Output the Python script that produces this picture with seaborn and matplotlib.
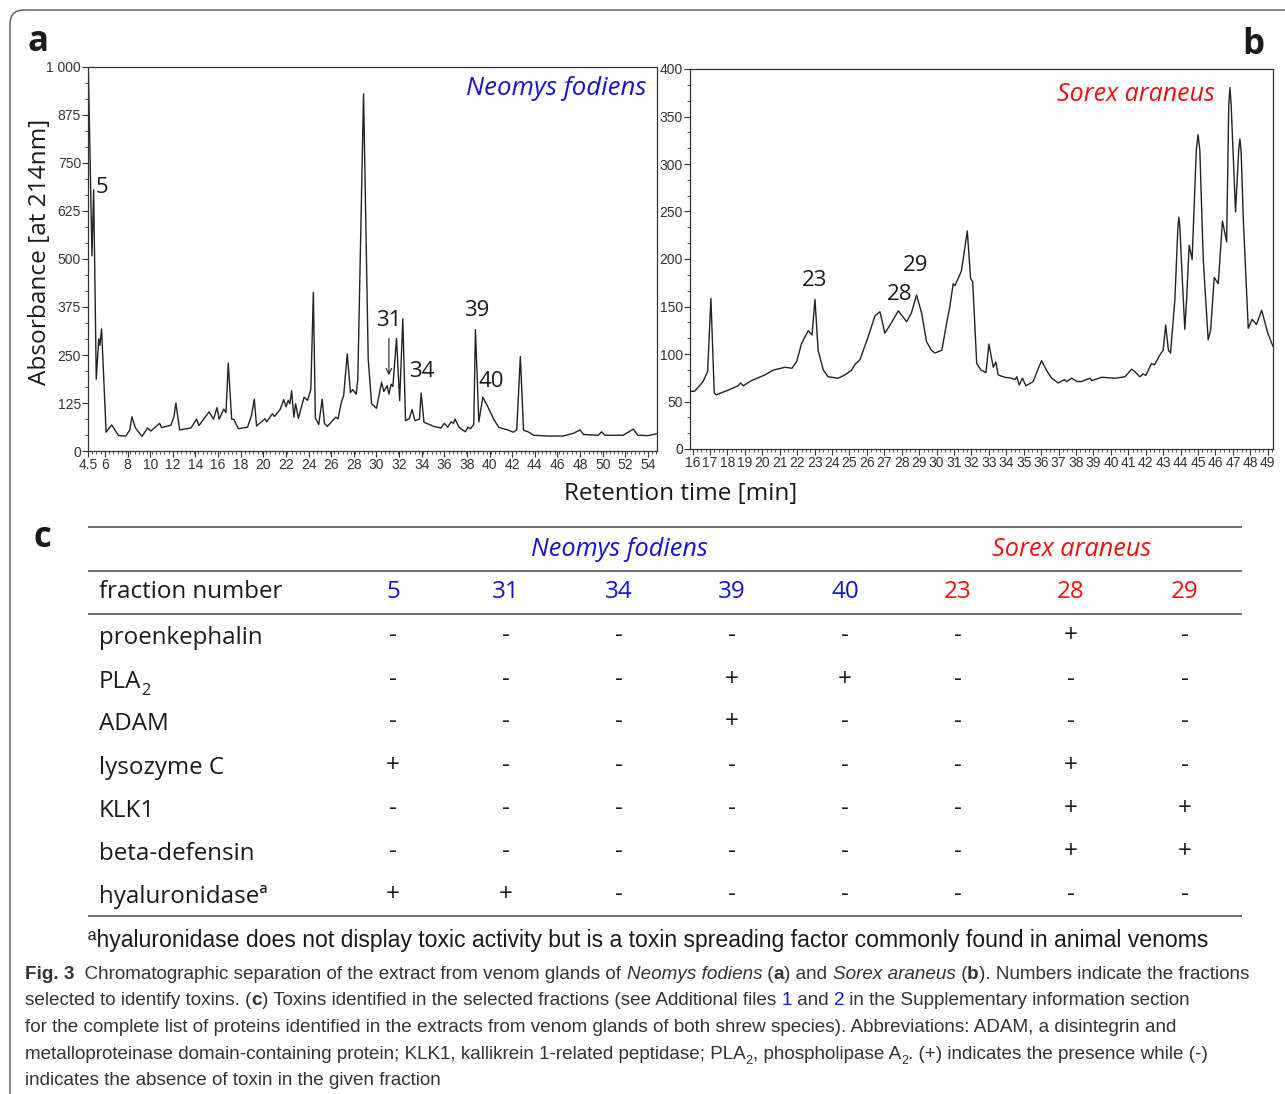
import matplotlib
matplotlib.use("Agg")
import matplotlib.pyplot as plt
import pandas as pd
import seaborn as sns
from matplotlib import font_manager
from matplotlib.font_manager import FontProperties
from matplotlib.patches import FancyBboxPatch
from matplotlib.ticker import AutoMinorLocator

W, H = 1285, 1094

# ---- chromatogram a: Neomys fodiens (time [min], absorbance) ----
NEO_TIME = [4.52, 4.60, 4.85, 5.00, 5.23, 5.45, 5.55, 5.70, 6.10, 6.60, 7.20, 7.85,
            8.20, 8.38, 8.70, 9.27, 9.77, 10.05, 10.83, 11.0, 11.83, 12.10, 12.27,
            12.60, 13.6, 14.1, 14.3, 15.2, 15.6, 15.9, 16.1, 16.5, 16.7, 16.9, 17.2,
            17.4, 17.8, 18.6, 18.95, 19.2, 19.4, 20.15, 20.3, 20.8, 21.0, 21.5, 21.8,
            22.0, 22.2, 22.35, 22.5, 22.7, 22.85, 23.1, 23.6, 23.9, 24.2, 24.42, 24.6,
            24.9, 25.2, 25.4, 25.65, 26.4, 26.6, 26.9, 27.1, 27.42, 27.7, 27.9, 28.2,
            28.35, 28.86, 29.27, 29.57, 29.8, 30.0, 30.45, 30.65, 30.95, 31.1, 31.3,
            31.45, 31.77, 32.05, 32.33, 32.57, 32.9, 33.15, 33.4, 33.8, 33.95, 34.2,
            35.07, 35.7, 36.0, 36.3, 36.6, 36.8, 36.95, 37.3, 37.85, 38.1, 38.3, 38.6,
            38.75, 39.05, 39.4, 39.8, 40.36, 40.8, 41.2, 41.6, 42.1, 42.4, 42.72, 43.0,
            43.4, 43.9, 45.1, 46.5, 47.4, 48.0, 48.3, 49.6, 49.9, 50.2, 51.8, 52.7,
            53.1, 54.0, 54.8]
NEO_ABS = [1010, 890, 508, 680, 187, 292, 275, 318, 49, 68, 40, 39,
           55, 89, 60, 38, 60, 52, 72, 61, 67, 90, 125,
           55, 60, 83, 66, 102, 83, 113, 83, 109, 100, 229, 83,
           82, 58, 62, 92, 135, 65, 84, 76, 97, 90, 109, 134,
           115, 132, 123, 157, 88, 123, 85, 140, 132, 160, 413, 86,
           69, 135, 72, 64, 88, 84, 127, 144, 253, 152, 160, 148,
           186, 930, 240, 123, 117, 111, 179, 155, 170, 148, 174,
           168, 293, 131, 344, 79, 84, 108, 79, 83, 151, 75,
           64, 60, 72, 62, 76, 72, 83, 62, 50, 62, 58, 69,
           316, 76, 140, 118, 83, 62, 58, 55, 49, 55, 246, 54,
           50, 41, 39, 39, 46, 55, 43, 41, 50, 41, 41, 57,
           41, 40, 45]

# ---- chromatogram b: Sorex araneus ----
SOR_TIME = [15.85, 16.13, 16.6, 16.86, 17.05, 17.24, 17.36, 18.05, 18.6, 18.75, 18.9,
            19.38, 20.15, 20.62, 21.3, 21.7, 21.97, 22.25, 22.63, 22.85, 23.02, 23.2,
            23.5, 23.78, 24.35, 24.74, 25.12, 25.31, 25.6, 26.07, 26.46, 26.75, 27.03,
            27.38, 27.8, 28.28, 28.55, 28.85, 29.14, 29.42, 29.7, 29.9, 30.3, 30.57,
            30.76, 30.95, 31.05, 31.24, 31.43, 31.76, 31.95, 32.07, 32.3, 32.55, 32.83,
            33.0, 33.25, 33.4, 33.53, 33.9, 34.3, 34.5, 34.6, 34.74, 34.93, 35.12,
            35.54, 35.73, 36.02, 36.3, 36.6, 36.98, 37.33, 37.45, 37.75, 38.05, 38.3,
            38.8, 38.9, 39.47, 40.23, 40.8, 41.19, 41.4, 41.66, 41.85, 42.0, 42.33,
            42.5, 42.81, 43.0, 43.14, 43.3, 43.42, 43.67, 43.84, 43.9, 43.96, 44.09,
            44.24, 44.35, 44.49, 44.66, 44.9, 45.0, 45.1, 45.3, 45.58, 45.72, 45.93,
            46.16, 46.4, 46.64, 46.76, 46.83, 46.9, 47.15, 47.33, 47.4, 47.47, 47.6,
            47.88, 48.1, 48.35, 48.65, 49.0, 49.3]
SOR_ABS = [60.5, 61, 71, 81.5, 158.5, 59, 57, 62, 66.5, 69.5, 66.5,
           72, 78, 83, 86, 85, 92, 111, 124.5, 120, 157.5, 104,
           83, 76, 74.5, 78, 83, 89, 94, 118, 140, 144.5, 122,
           132, 145.5, 134, 143, 162, 143, 113, 104, 101, 104, 132,
           150, 174, 172, 179.5, 188, 229.5, 179.5, 176, 90, 83, 80.5,
           110.5, 86, 91.5, 78, 75.5, 74.5, 73, 76, 67.5, 74.5, 66.5,
           71, 80, 93, 83, 74.5, 69.5, 73, 71, 74.5, 71, 71,
           74.5, 72, 75.5, 74.5, 76, 84, 81, 76, 79, 77.5, 90,
           88.5, 99, 104, 130.5, 104, 101, 157, 232, 244, 232, 181,
           126, 160, 214.5, 199.5, 315, 331, 315, 199, 115, 125, 180.5,
           174, 240, 218, 362, 380.5, 362, 249.5, 314, 326.5, 314, 240,
           127, 136.5, 131, 146, 122, 108]

NEO_XTICKS = [4.5] + list(range(6, 55, 2))
NEO_YTICKS = [0, 125, 250, 375, 500, 625, 750, 875, 1000]
NEO_YLABELS = ["0", "125", "250", "375", "500", "625", "750", "875", "1 000"]
SOR_XTICKS = list(range(16, 50))
SOR_YTICKS = list(range(0, 401, 50))

# peak labels: (text, time, absorbance) - label centres
NEO_PEAKS = [("5", 5.7, 685), ("31", 31.07, 339), ("34", 33.98, 206),
             ("39", 38.83, 365), ("40", 40.16, 182)]
SOR_PEAKS = [("23", 23.0, 177), ("28", 27.9, 163), ("29", 28.8, 193)]

# ---- table c ----
NEOMYS_FRACTIONS = ["5", "31", "34", "39", "40"]
SOREX_FRACTIONS = ["23", "28", "29"]
TOXINS = ["proenkephalin", "PLA", "ADAM", "lysozyme C", "KLK1", "beta-defensin",
          "hyaluronidaseª"]
PRESENCE = ["------+-",
            "---++---",
            "---+----",
            "+-----+-",
            "------++",
            "------++",
            "++------"]

BLUE = "#1414cc"
RED = "#f01010"
INK = "#1a1a1a"
CAP_INK = "#333333"

sns.set_style("ticks")
installed = {f.name for f in font_manager.fontManager.ttflist}
NARROW = "Liberation Sans Narrow" if "Liberation Sans Narrow" in installed else "Liberation Sans"
SANS = "Open Sans"
plt.rcParams["font.family"] = [SANS, "DejaVu Sans"]

fig = plt.figure(figsize=(W / 100, H / 100), dpi=100)
ov = fig.add_axes([0, 0, 1, 1])
ov.set_xlim(0, W)
ov.set_ylim(H, 0)
ov.axis("off")
renderer = fig.canvas.get_renderer()


def fax(x0, y0, x1, y1):
    return fig.add_axes([x0 / W, 1 - y1 / H, (x1 - x0) / W, (y1 - y0) / H])


def style_axes(ax):
    for sp in ax.spines.values():
        sp.set_color("#333333")
        sp.set_linewidth(0.9)
    ax.tick_params(which="major", direction="out", length=4, width=0.8,
                   color="#333333", pad=1)
    ax.tick_params(which="minor", direction="out", length=2, width=0.6,
                   color="#333333")
    ax.set_xlabel("")
    ax.set_ylabel("")


# panel a
ax_a = fax(88, 67, 657, 451)
df_a = pd.DataFrame({"time": NEO_TIME, "abs": NEO_ABS})
sns.lineplot(data=df_a, x="time", y="abs", ax=ax_a, color="#222222",
             linewidth=1.0, estimator=None, sort=False)
ax_a.set_xlim(4.5, 54.8)
ax_a.set_ylim(0, 1000)
ax_a.set_xticks(NEO_XTICKS)
ax_a.set_xticklabels([f"{v:g}" for v in NEO_XTICKS], fontfamily=NARROW,
                     fontsize=10, color="#333333")
ax_a.set_yticks(NEO_YTICKS)
ax_a.set_yticklabels(NEO_YLABELS, fontfamily=NARROW, fontsize=10, color="#333333")
ax_a.xaxis.set_minor_locator(AutoMinorLocator(4))
ax_a.yaxis.set_minor_locator(AutoMinorLocator(3))
style_axes(ax_a)
for txt, t, a in NEO_PEAKS:
    ax_a.text(t, a, txt, fontsize=16, ha="center", va="center", color=INK)
ax_a.annotate("", xy=(31.1, 190), xytext=(31.1, 300),
              arrowprops=dict(arrowstyle="->", lw=0.8, color=INK))
ax_a.text(0.982, 0.943, "Neomys fodiens", transform=ax_a.transAxes, ha="right",
          va="center", fontsize=18.5, style="italic", color=BLUE)

# panel b
ax_b = fax(690, 69, 1273, 449)
df_b = pd.DataFrame({"time": SOR_TIME, "abs": SOR_ABS})
sns.lineplot(data=df_b, x="time", y="abs", ax=ax_b, color="#222222",
             linewidth=1.0, estimator=None, sort=False)
ax_b.set_xlim(15.85, 49.3)
ax_b.set_ylim(0, 400)
ax_b.set_xticks(SOR_XTICKS)
ax_b.set_xticklabels([str(v) for v in SOR_XTICKS], fontfamily=NARROW,
                     fontsize=10, color="#333333")
ax_b.set_yticks(SOR_YTICKS)
ax_b.set_yticklabels([str(v) for v in SOR_YTICKS], fontfamily=NARROW,
                     fontsize=10, color="#333333")
ax_b.xaxis.set_minor_locator(AutoMinorLocator(4))
ax_b.yaxis.set_minor_locator(AutoMinorLocator(3))
style_axes(ax_b)
for txt, t, a in SOR_PEAKS:
    ax_b.text(t, a, txt, fontsize=16, ha="center", va="center", color=INK)
ax_b.text(0.900, 0.934, "Sorex araneus", transform=ax_b.transAxes, ha="right",
          va="center", fontsize=18, style="italic", color=RED)

# frame, panel letters, shared axis labels
ov.add_patch(FancyBboxPatch((10, 10), 1500, 1300, boxstyle="round,pad=0,rounding_size=14",
                            fill=False, ec="#555555", lw=1.0))
ov.text(38, 42, "a", fontsize=25, weight="bold", ha="center", va="center", color=INK)
ov.text(1253, 45, "b", fontsize=25, weight="bold", ha="center", va="center", color=INK)
ov.text(42, 538, "c", fontsize=25, weight="bold", ha="center", va="center", color=INK)
ov.text(40, 252, "Absorbance [at 214nm]", rotation=90, ha="center", va="center",
        fontsize=17.6, color=INK)
ov.text(681, 494, "Retention time [min]", ha="center", va="center", fontsize=17.5,
        color=INK)


def text_width(s, prop):
    return renderer.get_text_width_height_descent(s, prop, ismath=False)[0]


def draw_runs(x, y, runs, size, family, color, draw=True):
    # place runs one after another; the advance of each run is measured
    # against the first character of the next run
    for i, (s, opt) in enumerate(runs):
        sub = opt.get("sub", False)
        fs = size * 0.68 if sub else size
        prop = FontProperties(family=family, size=fs, weight=opt.get("weight", "normal"),
                              style=opt.get("style", "normal"))
        if draw:
            dy = size * 100 / 72 * 0.28 if sub else 0
            ov.text(x, y + dy, s, fontproperties=prop, color=opt.get("color", color),
                    ha="left", va="baseline")
        nxt = runs[i + 1][0][0] if i + 1 < len(runs) else "|"
        x += text_width(s + nxt, prop) - text_width(nxt, prop)
    return x


# table
COLS = [393, 506, 619, 732, 845, 958, 1071, 1185]
TFS = 17.4
for yl in (527, 571, 614, 916):
    ov.plot([88, 1242], [yl, yl], color="#555555", lw=1.2, solid_capstyle="butt")
ov.text(sum(COLS[:5]) / 5, 549, "Neomys fodiens", ha="center", va="center",
        fontsize=18.2, style="italic", color=BLUE)
ov.text(sum(COLS[5:]) / 3, 549, "Sorex araneus", ha="center", va="center",
        fontsize=18.2, style="italic", color=RED)
ov.text(99, 592, "fraction number", ha="left", va="center", fontsize=TFS, color=INK)
for x, f in zip(COLS, NEOMYS_FRACTIONS + SOREX_FRACTIONS):
    ov.text(x, 592, f, ha="center", va="center", fontsize=TFS,
            color=BLUE if f in NEOMYS_FRACTIONS else RED)
ROW_Y = [636, 680, 722, 766, 809, 852, 895]
for y, name, marks in zip(ROW_Y, TOXINS, PRESENCE):
    runs = [(name, {})]
    if name == "PLA":
        runs.append(("2", {"sub": True}))
    draw_runs(99, y + 8, runs, TFS, SANS, INK)
    for x, m in zip(COLS, marks):
        ov.text(x, y, m, ha="center", va="center", fontsize=TFS, color=INK)

# footnote, fitted to the reference width
foot = "ªhyaluronidase does not display toxic activity but is a toxin spreading factor commonly found in animal venoms"
fp = FontProperties(family=NARROW, size=16)
fsize = 16 * 1123 / text_width(foot, fp)
ov.text(648, 940, foot, ha="center", va="center", family=NARROW, fontsize=fsize,
        color=INK)

# caption
B = {"weight": "bold"}
I = {"style": "italic"}
CAPTION = [
    [("Fig. 3", B), ("  Chromatographic separation of the extract from venom glands of ", {}),
     ("Neomys fodiens", I), (" (", {}), ("a", B), (") and ", {}), ("Sorex araneus", I),
     (" (", {}), ("b", B), ("). Numbers indicate the fractions", {})],
    [("selected to identify toxins. (", {}), ("c", B),
     (") Toxins identified in the selected fractions (see Additional files ", {}),
     ("1", {"color": BLUE}), (" and ", {}), ("2", {"color": BLUE}),
     (" in the Supplementary information section", {})],
    [("for the complete list of proteins identified in the extracts from venom glands "
      "of both shrew species). Abbreviations: ADAM, a disintegrin and", {})],
    [("metalloproteinase domain-containing protein; KLK1, kallikrein 1-related peptidase; PLA", {}),
     ("2", {"sub": True}), (", phospholipase A", {}), ("2", {"sub": True}),
     (". (+) indicates the presence while (-)", {})],
    [("indicates the absence of toxin in the given fraction", {})],
]
w14 = draw_runs(0, 0, CAPTION[0], 14, NARROW, CAP_INK, draw=False)
csize = 14 * 1232 / w14
for base, runs in zip([979, 1005, 1032, 1059, 1085], CAPTION):
    draw_runs(25, base, runs, csize, NARROW, CAP_INK)

fig.savefig("out.png", dpi=100)
